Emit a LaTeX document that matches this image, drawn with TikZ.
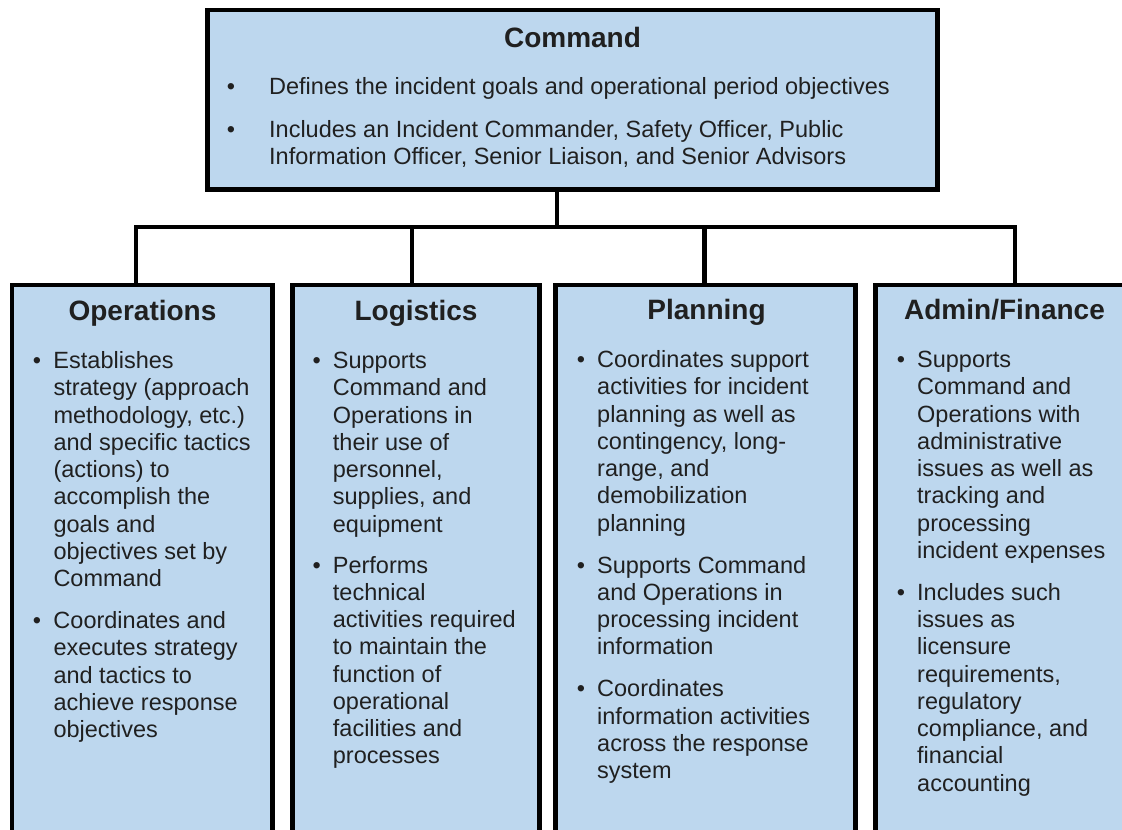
\documentclass[tikz,border=0pt]{standalone}
\usepackage{fontspec}
\setmainfont{Liberation Sans}
\definecolor{boxfill}{RGB}{189,215,238}
\definecolor{txt}{RGB}{32,32,32}
\tikzset{
  box/.style={draw=black, fill=boxfill, line width=4.5pt, rectangle, outer sep=0pt, inner sep=0pt, anchor=north west},
  conn/.style={draw=black, line width=4.5pt, line join=miter, line cap=rect},
  ttl/.style={font=\fontsize{28}{32}\selectfont\bfseries, text=txt, anchor=base, inner sep=0pt},
  para/.style={font=\fontsize{23.5}{27.25}\selectfont, text=txt, align=left, anchor=north west, inner sep=0pt}
}
\newcommand{\bul}[1]{\llap{•\hspace{#1}}\strut}
\begin{document}
\begin{tikzpicture}[x=1pt,y=-1pt]
\clip (0,0) rectangle (1122,830);
\fill[white] (0,0) rectangle (1122,830);
% boxes
\node[box, minimum width=730pt, minimum height=179.5pt] (cmd) at (207.5,10) {};
\node[box, minimum width=260.5pt, minimum height=547pt] (ops) at (12,285) {};
\node[box, minimum width=247pt, minimum height=547pt] (log) at (292.5,285) {};
\node[box, minimum width=300pt, minimum height=547pt] (pln) at (555.5,285) {};
\node[box, minimum width=258.5pt, minimum height=547pt] (adm) at (875.5,285) {};
% connectors
\coordinate (bus) at (557,227);
\coordinate (jo) at (136,227);
\coordinate (jl) at (412,227);
\coordinate (jp) at (704.5,227);
\coordinate (ja) at (1015,227);
\draw[conn] (bus |- cmd.south) -- (bus);
\draw[conn] (jo |- ops.north) -- (jo) -- (ja) -- (ja |- adm.north);
\draw[conn] (jl) -- (jl |- log.north);
\draw[conn] (jp) -- (jp |- pln.north);
% titles
\node[ttl] (tcmd) at (572.5,47.5) {Command};
\node[ttl] (tops) at (142.5,320.5) {Operations};
\node[ttl] (tlog) at (416,320.5) {Logistics};
\node[ttl] (tpln) at (706.5,319.5) {Planning};
\node[ttl] (tadm) at (1004.5,319.5) {Admin/Finance};
% command text
\node[para] (c1) at (269,94-19.075) {\bul{34pt}Defines the incident goals and operational period objectives};
\node[para] (c2) at (269,137-19.075) {\bul{34pt}Includes an Incident Commander, Safety Officer, Public\\Information Officer, Senior Liaison, and Senior Advisors};
% operations
\node[para] (o1) at (53.3,368.5-19.075) {\bul{12.5pt}Establishes\\strategy (approach\\methodology, etc.)\\and specific tactics\\(actions) to\\accomplish the\\goals and\\objectives set by\\Command};
\node[para] (o2) at (53.3,368.5+8*27.25+42-19.075) {\bul{12.5pt}Coordinates and\\executes strategy\\and tactics to\\achieve response\\objectives};
% logistics
\node[para] (l1) at (332.7,368.5-19.075) {\bul{12pt}Supports\\Command and\\Operations in\\their use of\\personnel,\\supplies, and\\equipment};
\node[para] (l2) at (332.7,368.5+6*27.25+41-19.075) {\bul{12pt}Performs\\technical\\activities required\\to maintain the\\function of\\operational\\facilities and\\processes};
% planning
\node[para] (p1) at (597,367.5-19.075) {\bul{12pt}Coordinates support\\activities for incident\\planning as well as\\contingency, long-\\range, and\\demobilization\\planning};
\node[para] (p2) at (597,367.5+6*27.25+42-19.075) {\bul{12pt}Supports Command\\and Operations in\\processing incident\\information};
\node[para] (p3) at (597,367.5+9*27.25+84-19.075) {\bul{12pt}Coordinates\\information activities\\across the response\\system};
% admin
\node[para] (a1) at (917,367.5-19.075) {\bul{12pt}Supports\\Command and\\Operations with\\administrative\\issues as well as\\tracking and\\processing\\incident expenses};
\node[para] (a2) at (917,367.5+7*27.25+42-19.075) {\bul{12pt}Includes such\\issues as\\licensure\\requirements,\\regulatory\\compliance, and\\financial\\accounting};
\end{tikzpicture}
\end{document}
